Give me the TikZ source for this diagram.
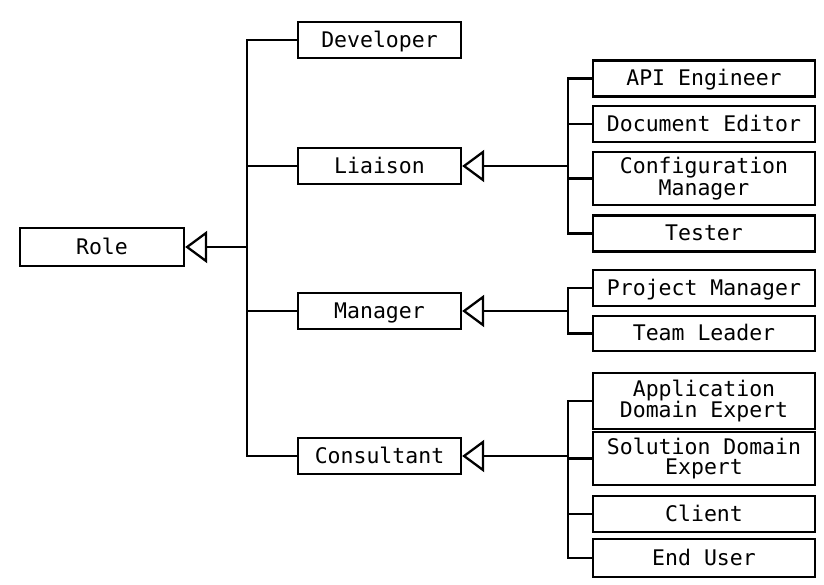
\documentclass[tikz,border=0pt]{standalone}
\usepackage{fontspec}
\setmainfont{DejaVu Sans Mono}
\usetikzlibrary{arrows.meta}
\begin{document}
\begin{tikzpicture}[x=1pt,y=-1pt,
  line width=2.3pt,
  box/.style={draw,line width=2.3pt,inner sep=0pt,align=center,
    font=\fontsize{21.5}{19.5}\selectfont},
  one/.style={text height=16pt,text depth=1.5pt},
  rootbox/.style={box,one,minimum width=164pt,minimum height=38pt},
  midbox/.style={box,one,minimum width=163pt,minimum height=36pt},
  leafbox/.style={box,minimum width=222pt,minimum height=36pt},
  gen/.style={-{Triangle[open,length=22pt,width=32pt]}},
  conn/.style={line width=2.3pt}]
\useasboundingbox (0,0) rectangle (824,584);
% nodes
\node[rootbox] (role) at (102,247) {Role};
\node[midbox] (dev) at (379.5,40) {Developer};
\node[midbox] (liaison) at (379.5,166) {Liaison};
\node[midbox] (manager) at (379.5,311) {Manager};
\node[midbox] (consult) at (379.5,456) {Consultant};
\node[leafbox,one] (api) at (704,78.5) {API Engineer};
\node[leafbox,one] (doc) at (704,124) {Document Editor};
\node[leafbox,minimum height=53pt] (conf) at (704,178.5) {Configuration\\Manager};
\node[leafbox,one] (tester) at (704,233.5) {Tester};
\node[leafbox,one] (pm) at (704,288) {Project Manager};
\node[leafbox,one,minimum height=35pt] (tl) at (704,333.5) {Team Leader};
\node[leafbox,minimum height=56pt] (ade) at (704,401) {Application\\Domain Expert};
\node[leafbox,minimum height=53pt] (sde) at (704,458.5) {Solution Domain\\Expert};
\node[leafbox,one] (client) at (704,514) {Client};
\node[leafbox,one,minimum height=38pt] (enduser) at (704,558) {End User};
% spine coordinates
\coordinate (s0) at (247,247);
\coordinate (s1) at (568,166);
\coordinate (s2) at (568,311);
\coordinate (s3) at (568,456);
% root generalization
\draw[conn] (dev.west) -- (dev.west -| s0) -- (consult.west -| s0) -- (consult.west);
\draw[conn] (liaison.west) -- (liaison.west -| s0);
\draw[conn] (manager.west) -- (manager.west -| s0);
\draw[conn,gen] (s0) -- (role.east);
% liaison
\draw[conn] (api.west) -- (api.west -| s1) -- (tester.west -| s1) -- (tester.west);
\draw[conn] (doc.west) -- (doc.west -| s1);
\draw[conn] (conf.west) -- (conf.west -| s1);
\draw[conn,gen] (s1) -- (liaison.east);
% manager
\draw[conn] (pm.west) -- (pm.west -| s2) -- (tl.west -| s2) -- (tl.west);
\draw[conn,gen] (s2) -- (manager.east);
% consultant
\draw[conn] (ade.west) -- (ade.west -| s3) -- (enduser.west -| s3) -- (enduser.west);
\draw[conn] (sde.west) -- (sde.west -| s3);
\draw[conn] (client.west) -- (client.west -| s3);
\draw[conn,gen] (s3) -- (consult.east);
\end{tikzpicture}
\end{document}
